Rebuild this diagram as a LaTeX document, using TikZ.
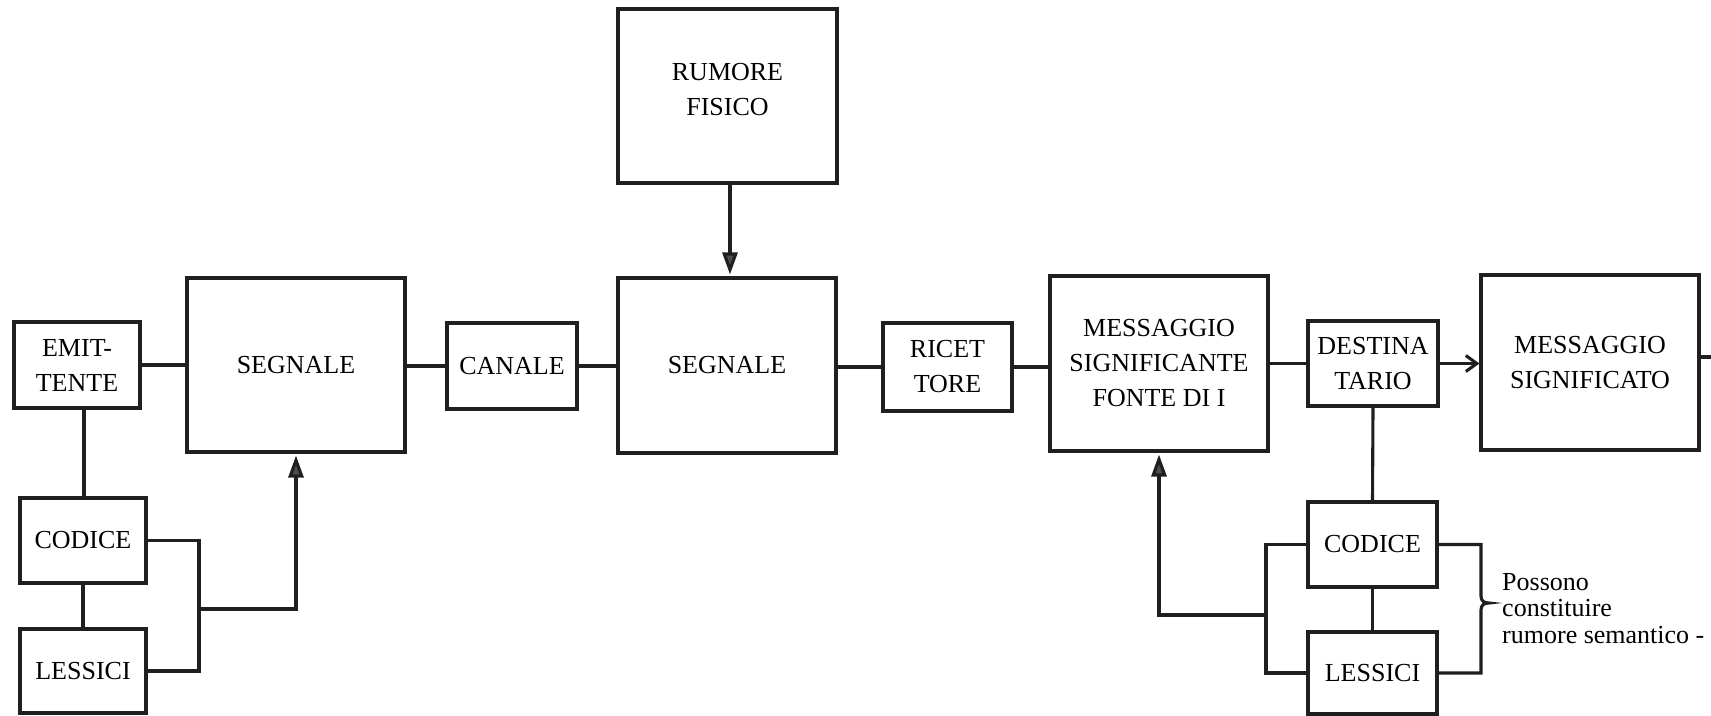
\documentclass[tikz,border=0pt]{standalone}
\usepackage{fontspec}
\setmainfont{Liberation Serif}
\usetikzlibrary{arrows.meta}
\begin{document}
\begin{tikzpicture}[x=1pt,y=-1pt,
  box/.style={draw=black!88, line width=3.1pt, align=center, inner sep=0pt,
    font=\fontsize{26}{35}\selectfont},
  wire/.style={draw=black!88, line width=3.1pt},
  tri/.style={-{Triangle[length=22pt,width=15pt,fill=black!70]}, shorten >=2pt},
  barb/.style={-{Straight Barb[length=11pt,width=16pt]}},
]
\useasboundingbox[fill=white] (0,0) rectangle (1711,715);

% top row
\node[box, minimum width=126pt, minimum height=86pt] (emit) at (77,365) {EMIT-\\TENTE};
\node[box, minimum width=218pt, minimum height=174pt] (seg1) at (296,365) {SEGNALE};
\node[box, minimum width=130pt, minimum height=86pt] (canale) at (512,366) {CANALE};
\node[box, minimum width=218pt, minimum height=175pt] (seg2) at (727,365.5) {SEGNALE};
\node[box, minimum width=219pt, minimum height=174pt, text depth=14pt] (rumore) at (727.5,96) {RUMORE\\FISICO};
\node[box, minimum width=129pt, minimum height=88pt] (ric) at (947.5,367) {RICET\\TORE};
\node[box, minimum width=218pt, minimum height=175pt] (msc) at (1159,363.5) {MESSAGGIO\\SIGNIFICANTE\\FONTE DI I};
\node[box, minimum width=130pt, minimum height=85pt] (dest) at (1373,363.5) {DESTINA\\TARIO};
\node[box, minimum width=218pt, minimum height=175pt] (mso) at (1590,362.5) {MESSAGGIO\\SIGNIFICATO};

% lower boxes
\node[box, minimum width=126pt, minimum height=85pt] (cod1) at (83,540.5) {CODICE};
\node[box, minimum width=126pt, minimum height=84pt] (les1) at (83,671) {LESSICI};
\node[box, minimum width=129pt, minimum height=85pt] (cod2) at (1372.5,544.5) {CODICE};
\node[box, minimum width=129pt, minimum height=82pt] (les2) at (1372.5,673) {LESSICI};

% annotation
\node[anchor=north west, inner sep=0pt, align=left,
  font=\fontsize{26}{26.5}\selectfont] (note) at (1502,573) {Possono\\constituire\\rumore semantico -};

% junction coordinates
\coordinate (jl) at (199,609);
\coordinate (jr) at (1266,615);
\coordinate (edge) at (1711,357);

% horizontal chain
\draw[wire] (emit.east) -- (emit.east -| seg1.west);
\draw[wire] (canale.west -| seg1.east) -- (canale.west);
\draw[wire] (canale.east) -- (canale.east -| seg2.west);
\draw[wire] (seg2.east |- ric.west) -- (ric.west);
\draw[wire] (ric.east) -- (ric.east -| msc.west);
\draw[wire] (msc.east |- dest.west) -- (dest.west);
\draw[wire, barb] (dest.east) -- (dest.east -| mso.west);
\draw[wire] (mso.east |- edge) -- (edge);

% rumore to segnale
\draw[wire, tri] (rumore.south -| 730,0) -- (seg2.north -| 730,0);

% left column
\draw[wire] (emit.south -| 84,0) -- (cod1.north -| 84,0);
\draw[wire] (cod1.south) -- (les1.north);
\draw[wire] (cod1.east) -| (jl) |- (les1.east);
\draw[wire, tri] (jl) -| (seg1.south);

% right column
\draw[wire] (dest.south) -- (cod2.north);
\draw[wire] (cod2.south) -- (les2.north);
\draw[wire] (cod2.west) -| (jr) |- (les2.west);
\draw[wire, tri] (jr) -| (msc.south);

% brace-like bracket on the right
\draw[wire, line join=miter] (cod2.east) -- (1481,544.5) -- (1481,596)
  .. controls (1481,601) and (1484,603) .. (1489,603)
  .. controls (1484,603) and (1481,605) .. (1481,610)
  -- (1481,673) -- (les2.east);
\end{tikzpicture}
\end{document}
